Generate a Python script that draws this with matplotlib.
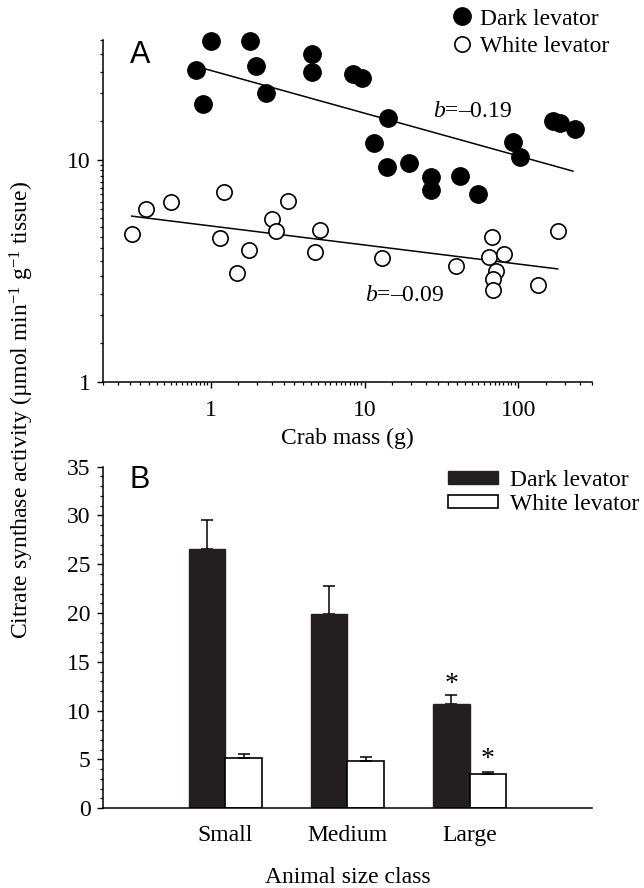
"""Citrate synthase activity in dark and white levator muscle vs crab size."""

import matplotlib
import numpy as np

matplotlib.use("Agg")
import matplotlib.pyplot as plt  # noqa: E402
from matplotlib.lines import Line2D  # noqa: E402
from matplotlib.patches import Patch  # noqa: E402
from matplotlib.ticker import FixedLocator, NullFormatter  # noqa: E402

plt.rcParams["font.family"] = ["Liberation Serif", "DejaVu Serif"]
plt.rcParams["mathtext.fontset"] = "custom"
plt.rcParams["mathtext.rm"] = "Liberation Serif"
plt.rcParams["mathtext.it"] = "Liberation Serif:italic"
plt.rcParams["font.size"] = 17

# Panel A: crab mass (g) vs activity
dark_mass = [0.80, 1.00, 0.89, 1.80, 1.97, 2.29, 4.57, 4.57, 8.45, 9.68, 14.3, 11.6,
             13.9, 19.6, 27.2, 27.2, 41.5, 54.3, 91.8, 102, 167, 186, 233]
dark_activity = [25.5, 34.5, 17.9, 34.4, 26.5, 20.1, 30.1, 24.9, 24.4, 23.4, 15.5, 11.9,
                 9.3, 9.7, 8.4, 7.3, 8.5, 7.0, 12.1, 10.3, 15.0, 14.7, 13.8]
white_mass = [0.307, 0.379, 0.551, 1.22, 1.15, 1.78, 1.48, 2.51, 2.66, 3.19, 5.15,
              4.78, 12.9, 39.6, 67.0, 64.1, 80.3, 71.1, 68.0, 68.0, 134, 180]
white_activity = [4.64, 6.01, 6.47, 7.17, 4.45, 3.93, 3.09, 5.42, 4.78, 6.53, 4.83,
                  3.85, 3.61, 3.33, 4.49, 3.65, 3.77, 3.16, 2.91, 2.59, 2.73, 4.78]
# allometric fits y = a * M**b and the mass range they cover
dark_fit = (25.4, -0.193)
white_fit = (5.05, -0.086)
dark_fit_range = (0.88, 226)
white_fit_range = (0.307, 180)

# Panel B: mean +/- SE per size class
size_classes = ["Small", "Medium", "Large"]
dark_mean = [26.6, 19.9, 10.7]
dark_se = [2.9, 2.9, 0.9]
white_mean = [5.1, 4.8, 3.5]
white_se = [0.45, 0.5, 0.2]
significant = [False, False, True]

DARK = "#231f20"


def style_axes(ax):
    for side in ("top", "right"):
        ax.spines[side].set_visible(False)
    for side in ("left", "bottom"):
        ax.spines[side].set_linewidth(1.1)


def draw_scatter(fig, ax):
    ax.set_xscale("log")
    ax.set_yscale("log")
    ax.plot(dark_mass, dark_activity, "o", ms=12.5, mfc="black", mec="black",
            clip_on=False, zorder=3)
    ax.plot(white_mass, white_activity, "o", ms=11, mfc="white", mec="black",
            mew=1.2, clip_on=False, zorder=3)
    for (a, b), (lo, hi) in ((dark_fit, dark_fit_range), (white_fit, white_fit_range)):
        m = np.geomspace(lo, hi, 60)
        ax.plot(m, a * m ** b, color="black", lw=1.1, zorder=2)
    ax.text(27.7, 16.5, "$b$=\u20130.19", ha="left", va="center")
    ax.text(10.1, 2.46, "$b$=\u20130.09", ha="left", va="center")

    ax.set_xlim(0.2, 300)
    ax.set_ylim(1, 35)
    ax.set_xticks([1, 10, 100], labels=["1", "10", "100"])
    ax.set_yticks([1, 10], labels=["1", "10"])
    x_minor = np.concatenate([np.arange(0.2, 1, 0.05), np.arange(1.5, 10, 0.5),
                              np.arange(15, 100, 5), np.arange(150, 301, 50)])
    y_minor = np.concatenate([np.arange(1.5, 10, 0.5), np.arange(15, 36, 5)])
    ax.xaxis.set_minor_locator(FixedLocator(x_minor))
    ax.yaxis.set_minor_locator(FixedLocator(y_minor))
    ax.xaxis.set_minor_formatter(NullFormatter())
    ax.yaxis.set_minor_formatter(NullFormatter())
    ax.tick_params(which="major", length=4, width=1.0, pad=5)
    ax.tick_params(axis="x", which="major", pad=9)
    ax.tick_params(which="minor", length=2, width=0.9)
    ax.set_xlabel("Crab mass (g)", labelpad=5)
    style_axes(ax)
    ax.text(0.055, 0.932, "A", transform=ax.transAxes, family="Liberation Sans",
            fontsize=22, va="baseline")

    handles = [
        Line2D([], [], ls="none", marker="o", ms=12.5, mfc="black", mec="black"),
        Line2D([], [], ls="none", marker="o", ms=11, mfc="white", mec="black", mew=1.2),
    ]
    ax.legend(handles, ["Dark levator", "White levator"], loc="upper left",
              bbox_to_anchor=(450 / 644, 1 - 8 / 888), bbox_transform=fig.transFigure,
              frameon=False, borderpad=0, borderaxespad=0, handlelength=1.0,
              handletextpad=0.27, labelspacing=0.25)


def draw_bars(fig, ax):
    x = np.arange(1, len(size_classes) + 1)
    w = 0.3
    zeros = np.zeros(len(x))
    ax.bar(x - w / 2, dark_mean, width=w, color=DARK, edgecolor=DARK, lw=1.0, zorder=2)
    ax.bar(x + w / 2, white_mean, width=w, color="white", edgecolor="black", lw=1.2,
           zorder=2)
    ax.errorbar(x - w / 2, dark_mean, yerr=[zeros, dark_se], fmt="none", ecolor="black",
                elinewidth=1.1, capsize=4, capthick=1.1, zorder=1)
    ax.errorbar(x + w / 2, white_mean, yerr=[zeros, white_se], fmt="none",
                ecolor="black", elinewidth=1.1, capsize=4, capthick=1.1, zorder=3)
    for i, sig in enumerate(significant):
        if sig:
            ax.text(x[i] - w / 2, dark_mean[i] + dark_se[i] + 1.1, "*", ha="center",
                    va="center", fontsize=20)
            ax.text(x[i] + w / 2, white_mean[i] + white_se[i] + 1.3, "*", ha="center",
                    va="center", fontsize=20)

    ax.set_xlim(0, 4)
    ax.set_ylim(0, 35)
    ax.set_xticks(x, labels=size_classes)
    ax.set_yticks(np.arange(0, 36, 5))
    ax.yaxis.set_minor_locator(FixedLocator(np.arange(0, 36, 1)))
    ax.tick_params(axis="x", length=0, pad=12)
    ax.tick_params(axis="y", which="major", length=4, width=1.0, pad=5)
    ax.tick_params(axis="y", which="minor", length=2.5, width=0.9)
    ax.set_xlabel("Animal size class", labelpad=15)
    style_axes(ax)
    ax.text(0.055, 0.937, "B", transform=ax.transAxes, family="Liberation Sans",
            fontsize=22, va="baseline")

    handles = [Patch(facecolor=DARK, edgecolor=DARK),
               Patch(facecolor="white", edgecolor="black", lw=1.2)]
    ax.legend(handles, ["Dark levator", "White levator"], loc="upper left",
              bbox_to_anchor=(448 / 644, 1 - 470 / 888), bbox_transform=fig.transFigure,
              frameon=False, borderpad=0, borderaxespad=0, handlelength=2.12,
              handleheight=0.5, handletextpad=0.5, labelspacing=0.13)


fig = plt.figure(figsize=(6.44, 8.88), dpi=100)
ax_a = fig.add_axes([0.160, 0.570, 0.759, 0.3855])
ax_b = fig.add_axes([0.160, 0.0898, 0.759, 0.3847])
draw_scatter(fig, ax_a)
draw_bars(fig, ax_b)
fig.text(0.034, 0.538,
         "Citrate synthase activity (\u00b5mol min$^{-1}$ g$^{-1}$ tissue)",
         rotation=90, ha="center", va="center")
fig.savefig("out.png", dpi=100)
